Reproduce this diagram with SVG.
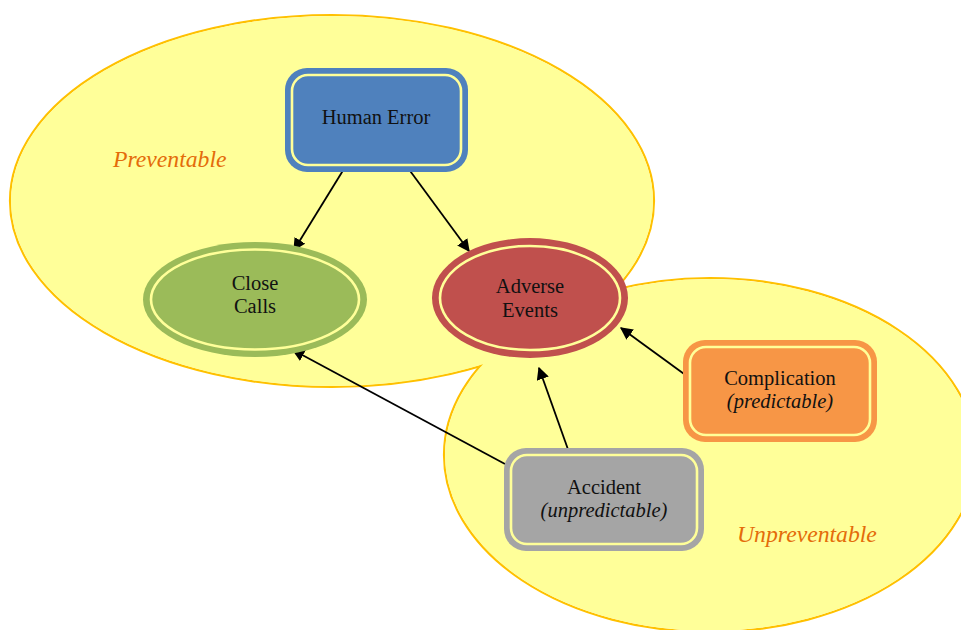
<svg xmlns="http://www.w3.org/2000/svg" width="961" height="630" viewBox="0 0 961 630">
<style>
.region{fill:#FFFF99;stroke:none}
.regionEdge{fill:none;stroke:#FFC000;stroke-width:2.2}
.ring{fill:none;stroke:#FFFF99;stroke-width:2.6}
.lbl{font-family:"Liberation Serif","Times New Roman",serif;font-size:20.5px;fill:#111;text-anchor:middle}
.it{font-style:italic}
.zone{font-family:"Liberation Serif","Times New Roman",serif;font-size:23.7px;font-style:italic;fill:#E46C0A}
.conn{stroke:#000;stroke-width:1.8;fill:none;marker-end:url(#ah)}
</style>
<defs>
<marker id="ah" viewBox="0 0 10 10" refX="9" refY="5" markerWidth="7" markerHeight="7" orient="auto" markerUnits="strokeWidth">
<path d="M0,0 L10,5 L0,10 z" fill="#000"/>
</marker>
</defs>
<rect width="961" height="630" fill="#fff"/>
<g id="regions">
<ellipse class="regionEdge" cx="332" cy="201" rx="322" ry="186"/>
<ellipse class="regionEdge" cx="710" cy="455" rx="266" ry="177"/>
<ellipse class="region" cx="332" cy="201" rx="321" ry="185"/>
<ellipse class="region" cx="710" cy="455" rx="265" ry="176"/>
<text class="zone" x="113" y="167">Preventable</text>
<text class="zone" x="737" y="542">Unpreventable</text>
</g>
<g id="connectors">
<line class="conn" x1="347" y1="164" x2="294" y2="250"/>
<line class="conn" x1="405" y1="164" x2="469" y2="251"/>
<line class="conn" x1="505" y1="464" x2="293" y2="350"/>
<line class="conn" x1="570" y1="455" x2="539" y2="368"/>
<line class="conn" x1="691" y1="379" x2="621" y2="328"/>
</g>
<g id="human-error">
<rect x="285" y="68" width="183" height="104" rx="22" fill="#4F81BD"/>
<rect class="ring" x="292" y="75" width="169" height="90" rx="16"/>
<text class="lbl" x="376" y="124">Human Error</text>
</g>
<g id="close-calls">
<ellipse cx="255" cy="299.5" rx="112" ry="57.5" fill="#9BBB59"/>
<ellipse class="ring" cx="255" cy="299.5" rx="104" ry="50"/>
<text class="lbl" x="255" y="290">Close</text>
<text class="lbl" x="255" y="313">Calls</text>
</g>
<g id="adverse-events">
<ellipse cx="530" cy="298" rx="98" ry="60" fill="#C0504D"/>
<ellipse class="ring" cx="530" cy="298" rx="90" ry="52"/>
<text class="lbl" x="530" y="293">Adverse</text>
<text class="lbl" x="530" y="317">Events</text>
</g>
<g id="complication">
<rect x="683" y="340" width="194" height="102" rx="22" fill="#F79646"/>
<rect class="ring" x="690" y="347" width="180" height="88" rx="16"/>
<text class="lbl" x="780" y="385">Complication</text>
<text class="lbl it" x="780" y="408">(predictable)</text>
</g>
<g id="accident">
<rect x="504" y="448" width="200" height="103" rx="22" fill="#A5A5A5"/>
<rect class="ring" x="511" y="455" width="186" height="89" rx="16"/>
<text class="lbl" x="604" y="494">Accident</text>
<text class="lbl it" x="604" y="517">(unpredictable)</text>
</g>
</svg>
